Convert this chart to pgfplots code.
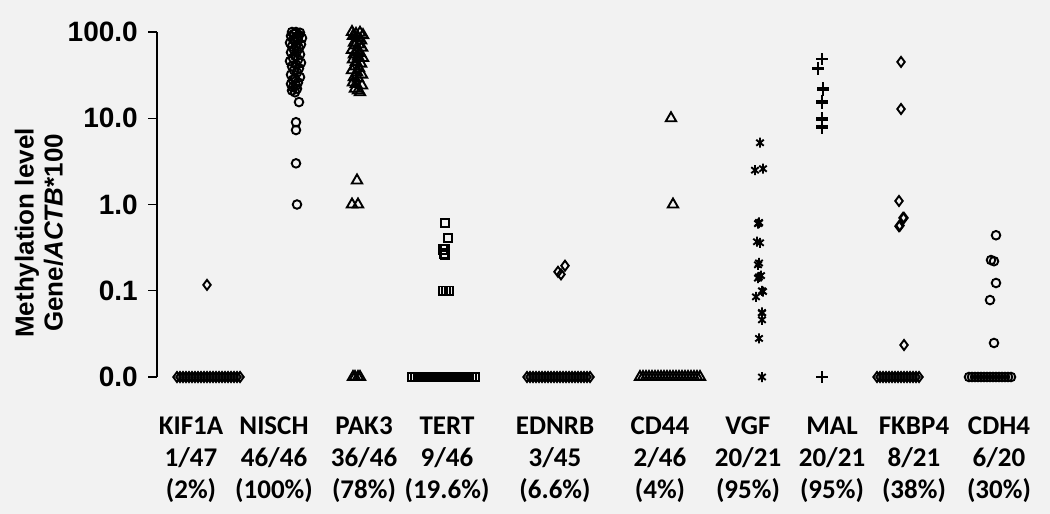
\documentclass[border=0pt]{standalone}
\usepackage{pgfplots}
\pgfplotsset{compat=1.18}
\usepackage{fontspec}
\newfontfamily\carlito{Carlito}
\newfontfamily\arial{Liberation Sans}
\definecolor{bg}{RGB}{242,242,242}
\pgfdeclareplotmark{xbar}{%
  \pgfpathmoveto{\pgfqpoint{-.75\pgfplotmarksize}{-.6\pgfplotmarksize}}%
  \pgfpathlineto{\pgfqpoint{.75\pgfplotmarksize}{.6\pgfplotmarksize}}%
  \pgfpathmoveto{\pgfqpoint{-.75\pgfplotmarksize}{.6\pgfplotmarksize}}%
  \pgfpathlineto{\pgfqpoint{.75\pgfplotmarksize}{-.6\pgfplotmarksize}}%
  \pgfpathmoveto{\pgfqpoint{0pt}{-\pgfplotmarksize}}%
  \pgfpathlineto{\pgfqpoint{0pt}{\pgfplotmarksize}}%
  \pgfusepathqstroke}
\begin{document}
\begin{tikzpicture}
\fill[bg] (0,0) rectangle (1050pt,514pt);
\begin{axis}[
  at={(157pt,137pt)}, anchor=south west,
  scale only axis, width=883pt, height=345pt,
  xmin=157, xmax=1040,
  ymode=log, ymin=0.01, ymax=100,
  clip=false,
  axis x line*=bottom, axis y line*=left,
  x axis line style={draw=none},
  y axis line style={line width=1.2pt},
  xtick={191,274,364,447,555,660,748,832,914,999},
  xticklabels={{KIF1A\\1/47\\(2\%)},{NISCH\\46/46\\(100\%)},{PAK3\\36/46\\(78\%)},{TERT\\9/46\\(19.6\%)},{EDNRB\\3/45\\(6.6\%)},{CD44\\2/46\\(4\%)},{VGF\\20/21\\(95\%)},{MAL\\20/21\\(95\%)},{FKBP4\\8/21\\(38\%)},{CDH4\\6/20\\(30\%)}},
  xticklabel style={align=center, anchor=north, inner sep=0pt, yshift=-31pt,
     font=\carlito\bfseries\fontsize{27}{32}\selectfont},
  xtick style={draw=none},
  ytick={0.01,0.1,1,10,100},
  yticklabels={0.0,0.1,1.0,10.0,100.0},
  yticklabel style={font=\arial\bfseries\fontsize{28}{34}\selectfont, inner sep=0pt, xshift=-10pt},
  tick align=outside, major tick length=9pt,
  ytick style={line width=1.2pt, black},
  minor tick num=0, yminorticks=false,
  every axis plot/.append style={only marks, mark options={solid, line width=1.9pt, fill=none, draw=black}},
]
% KIF1A
\addplot[mark=diamond, mark size=5pt] coordinates {
(207,0.117)
(177,0.01)(180,0.01)(183,0.01)(186,0.01)(189,0.01)(192,0.01)(195,0.01)(198,0.01)(201,0.01)(204,0.01)(207,0.01)
(210,0.01)(213,0.01)(216,0.01)(219,0.01)(222,0.01)(225,0.01)(228,0.01)(231,0.01)(234,0.01)(237,0.01)(240,0.01)};
% NISCH
\addplot[mark=o, mark size=4.3pt] coordinates {
(296,100)(292,100)(300,98)(294,95)(299,92)(291,90)(297,88)(302,85)(293,82)(298,80)
(295,78)(290,75)(301,72)(296,70)(292,68)(299,65)(294,62)(297,60)(291,58)(300,55)
(295,53)(293,50)(298,48)(290,46)(301,44)(296,42)(292,40)(299,38)(294,36)(297,34)
(291,32)(300,30)(295,29)(293,28)(298,26)(291,25)(296,24)(293,23)(297,22)(292,21)(295,20)
(299,15.4)(296,9.0)(296,7.3)(296,3.0)(297,1.0)};
% PAK3
\addplot[mark=triangle, mark size=6pt] coordinates {
(352,100)(360,98)(356,95)(363,92)(353,90)(358,85)(361,80)(354,75)(359,72)(355,70)
(362,66)(352,62)(357,60)(360,57)(354,55)(358,52)(363,50)(353,48)(356,45)(361,43)
(355,40)(359,38)(352,36)(357,34)(362,32)(354,30)(358,29)(353,26)(356,25)(362,24)
(355,22)(358,21)(360,20)
(357,1.9)(352,1.0)(358,1.0)
(353,0.01)(355,0.01)(358,0.01)(360,0.01)};
% TERT
\addplot[mark=square, mark size=4.3pt] coordinates {
(445,0.61)(448,0.41)(443,0.30)(445,0.26)(444,0.27)(443,0.1)(449,0.1)(446,0.1)(445,0.3)
(412,0.01)(415,0.01)(418,0.01)(421,0.01)(424,0.01)(427,0.01)(430,0.01)(433,0.01)(436,0.01)(439,0.01)(442,0.01)
(445,0.01)(448,0.01)(451,0.01)(454,0.01)(457,0.01)(460,0.01)(463,0.01)(466,0.01)(469,0.01)(472,0.01)(475,0.01)};
% EDNRB
\addplot[mark=diamond, mark size=5pt] coordinates {
(558,0.166)(565,0.195)(561,0.155)
(527,0.01)(530,0.01)(533,0.01)(536,0.01)(539,0.01)(542,0.01)(545,0.01)(548,0.01)(551,0.01)(554,0.01)(557,0.01)
(560,0.01)(563,0.01)(566,0.01)(569,0.01)(572,0.01)(575,0.01)(578,0.01)(581,0.01)(584,0.01)(587,0.01)(590,0.01)};
% CD44
\addplot[mark=triangle, mark size=6pt] coordinates {
(671,10)(673,1.0)
(640,0.01)(643,0.01)(646,0.01)(649,0.01)(652,0.01)(655,0.01)(658,0.01)(661,0.01)(664,0.01)(667,0.01)(670,0.01)
(673,0.01)(676,0.01)(679,0.01)(682,0.01)(685,0.01)(688,0.01)(691,0.01)(694,0.01)(697,0.01)(700,0.01)};
% VGF
\addplot[mark=xbar, mark size=5pt] coordinates {
(760,5.2)(755,2.5)(763,2.6)(759,0.61)(758,0.6)(757,0.37)(759,0.21)(758,0.2)(759,0.145)(758,0.14)
(763,0.098)(756,0.085)(762,0.056)(762,0.046)(759,0.028)(762,0.055)(760,0.36)(762,0.1)(759,0.62)(761,0.15)
(762,0.01)};
% MAL
\addplot[mark=+, mark size=6pt] coordinates {
(822,48.6)(818,38)(823,21.7)(822,15.4)(822,9.8)(822,7.9)(822,48)(818,37.5)(823,22)(822,15.8)
(822,9.6)(822,8.1)(822,48.3)(818,38.5)(823,21.4)(822,15.2)(822,10)(822,7.8)(823,22.3)(822,15.6)
(822,0.01)};
% FKBP4
\addplot[mark=diamond, mark size=5pt] coordinates {
(901,45)(901,12.8)(899,1.1)(904,0.70)(899,0.56)(904,0.0235)(903,0.7)(900,0.57)
(877,0.01)(880,0.01)(883,0.01)(886,0.01)(889,0.01)(892,0.01)(895,0.01)(898,0.01)(901,0.01)(904,0.01)(907,0.01)
(910,0.01)(913,0.01)(916,0.01)(919,0.01)};
% CDH4
\addplot[mark=o, mark size=4.3pt] coordinates {
(996,0.44)(991,0.227)(994,0.22)(996,0.123)(990,0.078)(994,0.0248)
(969,0.01)(972,0.01)(975,0.01)(978,0.01)(981,0.01)(984,0.01)(987,0.01)(990,0.01)(993,0.01)(996,0.01)
(999,0.01)(1002,0.01)(1005,0.01)(1008,0.01)(1011,0.01)};
\end{axis}
\node[rotate=90, align=center, font=\arial\bfseries\fontsize{26}{29}\selectfont] at (39pt,281pt)
  {Methylation level\\Gene/\textit{ACTB}*100};
\pgfresetboundingbox
\path[use as bounding box] (0,0) rectangle (1050pt,514pt);
\end{tikzpicture}
\end{document}
